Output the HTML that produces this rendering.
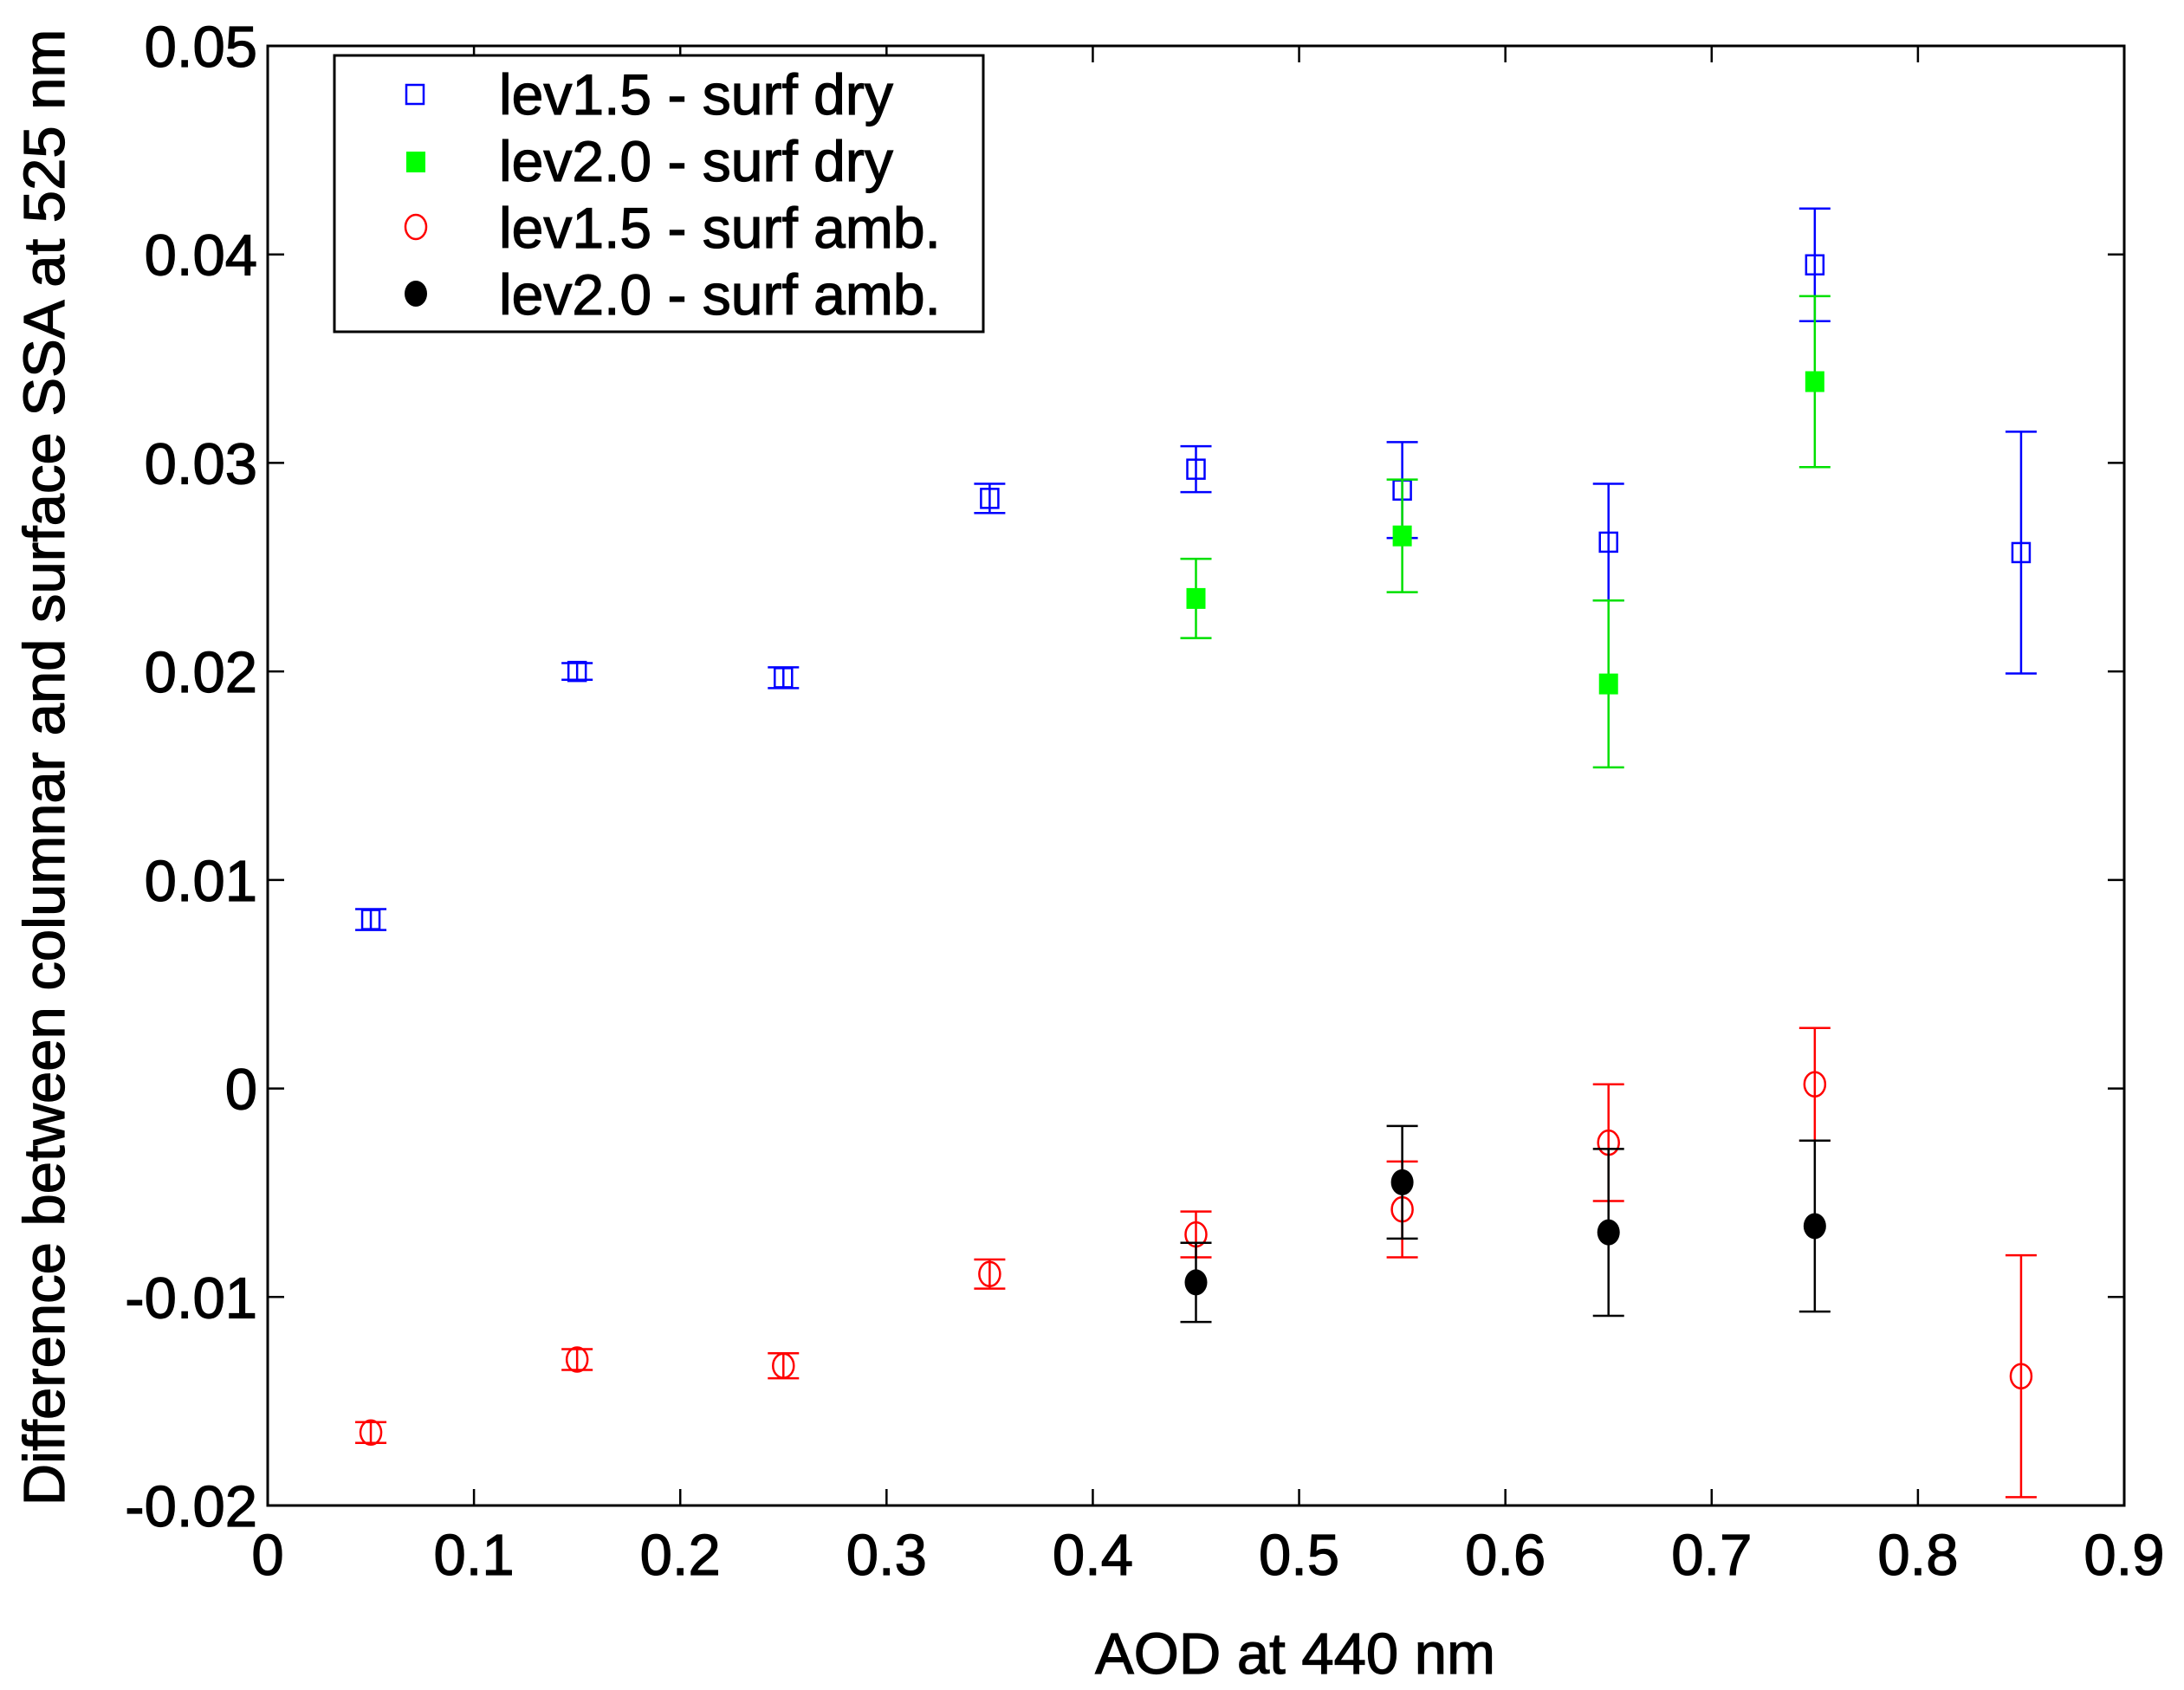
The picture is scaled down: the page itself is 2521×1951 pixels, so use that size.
<!DOCTYPE html>
<html><head><meta charset="utf-8"><style>
html,body{margin:0;padding:0;background:#fff;}
svg{display:block;font-family:"Liberation Sans",Arial,sans-serif;}
text{stroke:#000;stroke-width:1.2;}
</style></head><body>
<svg id="chart" width="2521" height="1951" viewBox="0 0 2521 1951" xmlns="http://www.w3.org/2000/svg">
<rect width="2521" height="1951" fill="#fff"/>
<g id="marks"></g>
<g id="axes"></g>
<text x="1495" y="1932" font-size="67" text-anchor="middle">AOD at 440 nm</text>
<text transform="translate(74,886) rotate(-90)" font-size="67" text-anchor="middle">Difference between columnar and surface SSA at 525 nm</text>
<g>
<rect x="386" y="64" width="749" height="319" fill="#fff" stroke="#000" stroke-width="3"/>
<rect x="469" y="98" width="20" height="22" fill="none" stroke="#0000ff" stroke-width="2.5"/>
<text x="576" y="132" font-size="66">lev1.5 - surf dry</text>
<rect x="469" y="175" width="22" height="24" fill="#00ff00"/>
<text x="576" y="209" font-size="66">lev2.0 - surf dry</text>
<ellipse cx="480" cy="262" rx="12" ry="14" fill="none" stroke="#ff0000" stroke-width="2.5"/>
<text x="576" y="286" font-size="66">lev1.5 - surf amb.</text>
<ellipse cx="480" cy="339" rx="13" ry="15" fill="#000"/>
<text x="576" y="363" font-size="66">lev2.0 - surf amb.</text>
</g>
</svg>
<script>
const xBlue=[0.05,0.15,0.25,0.35,0.45,0.55,0.65,0.75,0.85];
const yBlue=[0.0081,0.0200,0.0197,0.0283,0.0297,0.0287,0.0262,0.0395,0.0257];
const eBlue=[0.0005,0.0004,0.0005,0.0007,0.0011,0.0023,0.0028,0.0027,0.0058];
const xGreen=[0.45,0.55,0.65,0.75];
const yGreen=[0.0235,0.0265,0.0194,0.0339];
const eGreen=[0.0019,0.0027,0.0040,0.0041];
const xRed=[0.05,0.15,0.25,0.35,0.45,0.55,0.65,0.75,0.85];
const yRed=[-0.0165,-0.0130,-0.0133,-0.0089,-0.0070,-0.0058,-0.0026,0.0002,-0.0138];
const eRed=[0.0005,0.0005,0.0006,0.0007,0.0011,0.0023,0.0028,0.0027,0.0058];
const xBlack=[0.45,0.55,0.65,0.75];
const yBlack=[-0.0093,-0.0045,-0.0069,-0.0066];
const eBlack=[0.0019,0.0027,0.0040,0.0041];
const xTicks=[0,0.1,0.2,0.3,0.4,0.5,0.6,0.7,0.8,0.9];
const xTickLabels=["0","0.1","0.2","0.3","0.4","0.5","0.6","0.7","0.8","0.9"];
const yTicks=[-0.02,-0.01,0,0.01,0.02,0.03,0.04,0.05];
const yTickLabels=["-0.02","-0.01","0","0.01","0.02","0.03","0.04","0.05"];

const L=309,R=2452,T=53,B=1738;
const xS=v=>L+(v-0)/(0.9-0)*(R-L);
const yS=v=>B-(v+0.02)/(0.07)*(B-T);
const NS="http://www.w3.org/2000/svg";
const marks=document.getElementById('marks');
const axes=document.getElementById('axes');
function mk(tag,attrs,parent){const e=document.createElementNS(NS,tag);for(const k in attrs)e.setAttribute(k,attrs[k]);parent.appendChild(e);return e;}

function series(xs,ys,es,color,fillc,shape,name){
  const g=mk('g',{},marks);
  
  
  xs.forEach((x,i)=>{
    const cx=xS(x),cy=yS(ys[i]),y1=yS(ys[i]+es[i]),y2=yS(ys[i]-es[i]);
    const eb=mk('path',{d:`M${cx},${y1}V${y2}M${cx-18},${y1}H${cx+18}M${cx-18},${y2}H${cx+18}`,stroke:color,'stroke-width':2.5,fill:'none'},g);
    
    
    let m;
    if(shape==='osq') m=mk('rect',{x:cx-10,y:cy-11,width:20,height:22,fill:'none',stroke:color,'stroke-width':2.5},g);
    else if(shape==='fsq') m=mk('rect',{x:cx-11,y:cy-12,width:22,height:24,fill:fillc},g);
    else if(shape==='oc') m=mk('ellipse',{cx:cx,cy:cy,rx:12,ry:14,fill:'none',stroke:color,'stroke-width':2.5},g);
    else m=mk('ellipse',{cx:cx,cy:cy,rx:13,ry:15,fill:fillc},g);
    
    
  });
}
series(xBlue,yBlue,eBlue,'#0000ff','none','osq','lev15-dry');
series(xGreen,yGreen,eGreen,'#00e000','#00ff00','fsq','lev20-dry');
series(xRed,yRed,eRed,'#ff0000','none','oc','lev15-amb');
series(xBlack,yBlack,eBlack,'#000000','#000000','fc','lev20-amb');

const frame=mk('rect',{x:L,y:T,width:R-L,height:B-T,fill:'none',stroke:'#000','stroke-width':3},axes);


xTicks.forEach((v,i)=>{
  const x=xS(v);
  const t=mk('path',{d:`M${x},${B}V${B-19}M${x},${T}V${T+19}`,stroke:'#000','stroke-width':2.5},axes);
  
  
  const lb=mk('text',{x:x,y:1818,'font-size':67,'text-anchor':'middle'},axes);
  lb.textContent=xTickLabels[i];
  
  
});
yTicks.forEach((v,i)=>{
  const y=yS(v);
  const t=mk('path',{d:`M${L},${y}H${L+19}M${R},${y}H${R-19}`,stroke:'#000','stroke-width':2.5},axes);
  
  
  const lb=mk('text',{x:297,y:y+24,'font-size':67,'text-anchor':'end'},axes);
  lb.textContent=yTickLabels[i];
  
  
});
</script>
</body></html>
